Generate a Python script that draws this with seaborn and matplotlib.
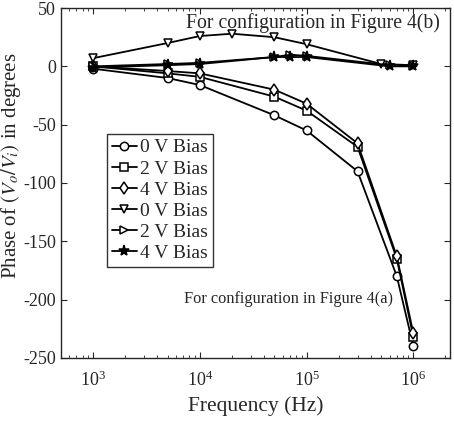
import numpy as np
import pandas as pd
import matplotlib
matplotlib.use("Agg")
import matplotlib.pyplot as plt
import seaborn as sns

# Configuration in Figure 4(a)
freq_a = [1e3, 5e3, 1e4, 5e4, 1e5, 3e5, 7e5, 1e6]
a_0v = [-2, -10, -16, -42, -55, -90, -180, -240]
a_2v = [0, -6, -9, -26, -38, -69, -165, -232]
a_4v = [0, -4, -6, -20, -32, -66, -163, -229]

# Configuration in Figure 4(b)
freq_b0 = [1e3, 5e3, 1e4, 2e4, 5e4, 1e5, 5e5, 1e6]
b_0v = [7, 20, 26, 28, 25, 19, 2, 1]
freq_b = [1e3, 5e3, 1e4, 5e4, 7e4, 1e5, 6e5, 1e6]
b_2v = [0, 2, 3, 8, 10, 9, 1, 0]
b_4v = [-1, 1, 2, 8, 8, 8, 0, 0]

labels = ["0 V Bias", "2 V Bias", "4 V Bias", "0 V Bias", "2 V Bias", "4 V Bias"]
markers = ["o", "s", "d", "v", ">", "*"]

sns.set_style("ticks")
plt.rcParams['font.family'] = ['Liberation Serif', 'DejaVu Serif']
plt.rcParams['mathtext.fontset'] = 'stix'
plt.rcParams['axes.unicode_minus'] = False

fig = plt.figure(figsize=(4.54, 4.24), dpi=100)
ax = fig.add_axes([0.134, 0.156, 0.857, 0.825])

series = [(freq_a, a_0v), (freq_a, a_2v), (freq_a, a_4v),
          (freq_b0, b_0v), (freq_b, b_2v), (freq_b, b_4v)]
for i, ((fx, fy), lab, mk) in enumerate(zip(series, labels, markers)):
    df = pd.DataFrame({"f": fx, "p": fy})
    filled = mk == "*"
    sns.lineplot(data=df, x="f", y="p", ax=ax, color="black", lw=1.3,
                 marker=mk, markersize=6 if mk != "*" else 8,
                 markerfacecolor="black" if filled else "white",
                 markeredgecolor="black", markeredgewidth=1.1,
                 label=lab, sort=False)

ax.set_xscale("log")
ax.set_xlim(500, 2.2e6)
ax.set_ylim(-250, 50)
ax.set_yticks([-250, -200, -150, -100, -50, 0, 50])
ax.set_xticks([1e3, 1e4, 1e5, 1e6])
ax.tick_params(which="both", direction="in", top=True, right=True, labelsize=13)
ax.tick_params(axis="x", which="major", pad=9)
ax.tick_params(which="major", length=4)
ax.tick_params(which="minor", length=2)
for s in ax.spines.values():
    s.set_linewidth(1.0)

ax.set_xlabel("Frequency (Hz)", fontsize=15.5, labelpad=5)
ax.set_ylabel(r"Phase of $(V_o/V_i)$ in degrees", fontsize=15)
ax.yaxis.set_label_coords(-0.098, 0.55)

ax.text(0.975, 0.985, "For configuration in Figure 4(b)", transform=ax.transAxes,
        ha="right", va="top", fontsize=14.2)
ax.text(0.586, 0.169, "For configuration in Figure 4(a)", transform=ax.transAxes,
        ha="center", va="center", fontsize=11.8)

leg = ax.legend(loc="upper left", bbox_to_anchor=(0.118, 0.64), fontsize=14,
                frameon=True, fancybox=False, edgecolor="black",
                handlelength=1.3, handletextpad=0.15, labelspacing=0.18,
                borderpad=0.25, borderaxespad=0)
leg.get_frame().set_linewidth(1.0)

fig.savefig("out.png", dpi=100)
